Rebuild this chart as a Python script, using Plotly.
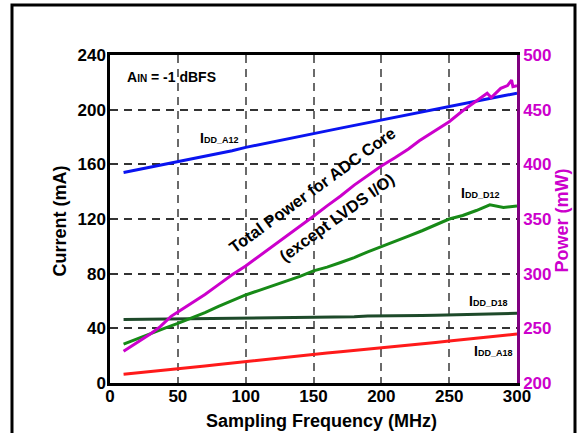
import plotly.graph_objects as go

# Sampling frequency (MHz)
freq = [10, 20, 30, 40, 50, 60, 70, 80, 90, 100, 110, 120, 130, 140, 150,
        160, 170, 180, 190, 200, 210, 220, 230, 240, 250, 260, 270, 280, 290, 300]

# Currents (mA)
idd_a12 = [154, 156, 158, 160, 161.8, 163.6, 165.6, 167.6, 170, 172.4, 174.5, 176.5,
           178.6, 180.6, 182.6, 184.5, 186.5, 188.5, 190.5, 192.4, 194.5, 196.5,
           198.5, 200.6, 202.6, 204.6, 206.5, 208.3, 210.2, 212]
idd_d12 = [28.5, 32.5, 36.3, 40, 43.6, 47.5, 51.5, 56, 60.3, 64.4, 67.8, 71.2,
           74.6, 78, 82, 84.8, 88.2, 91.8, 96, 100, 103.6, 107.5, 111.4, 116,
           120, 122.6, 126.2, 130.4, 128.4, 129.5]
idd_d18 = [46.5, 46.6, 46.6, 46.7, 46.7, 46.8, 46.9, 47, 47.1, 47.2, 47.3, 47.4,
           47.8, 47.6, 48, 48.1, 48.3, 48.5, 49, 49, 49.1, 49.3, 49.4, 49.6,
           49.8, 50.2, 50.3, 50.5, 50.7, 51]
idd_a18 = [6.4, 7.5, 8.5, 9.5, 10.5, 11.5, 12.5, 13.5, 14.6, 15.6, 16.6, 17.7,
           18.8, 19.9, 21, 21.9, 22.8, 23.7, 24.6, 25.5, 26.5, 27.6, 28.6, 29.6,
           30.7, 31.7, 32.7, 33.8, 34.8, 35.8]

# Total power for ADC core (mW)
pwr_freq = [10, 20, 30, 37, 45, 50, 60, 70, 80, 90, 100, 110, 120, 130, 140, 150,
            160, 170, 180, 190, 200, 210, 220, 228, 240, 250, 260, 270, 278, 281,
            288, 293, 296, 297, 300]
power = [229, 237, 245, 251.5, 261, 265, 273, 281, 290, 299, 307, 316, 325, 334,
         343, 352.5, 362, 371, 381, 390, 398.5, 406, 414, 421.5, 431, 439, 449, 458,
         465, 461, 469.5, 472, 477, 471, 472]

FONT = "Liberation Sans, Arial, sans-serif"
MAG = "#CC00CC"

fig = go.Figure()

fig.add_trace(go.Scatter(x=freq, y=idd_a18, mode="lines", line=dict(color="#FF1A1A", width=3)))
fig.add_trace(go.Scatter(x=freq, y=idd_d18, mode="lines", line=dict(color="#1E4A2A", width=3)))
fig.add_trace(go.Scatter(x=freq, y=idd_d12, mode="lines", line=dict(color="#178A17", width=3)))
fig.add_trace(go.Scatter(x=freq, y=idd_a12, mode="lines", line=dict(color="#0A14F0", width=3)))
fig.add_trace(go.Scatter(x=pwr_freq, y=power, mode="lines", yaxis="y2",
                         line=dict(color=MAG, width=3)))

sub = '<span style="font-size:9px">%s</span>'
annots = [
    dict(x=0.037, y=0.933, xref="paper", yref="paper", xanchor="left",
         text="<b>A" + '<span style="font-size:10px">IN</span>' + " = -1 dBFS</b>", font=dict(size=14)),
    dict(x=64.6, y=179.5, xanchor="left", text="<b>I" + sub % "DD_A12" + "</b>", font=dict(size=14)),
    dict(x=257.2, y=138.8, xanchor="left", text="<b>I" + sub % "DD_D12" + "</b>", font=dict(size=14)),
    dict(x=263, y=59.8, xanchor="left", text="<b>I" + sub % "DD_D18" + "</b>", font=dict(size=14)),
    dict(x=266.5, y=23.2, xanchor="left", text="<b>I" + sub % "DD_A18" + "</b>", font=dict(size=14)),
    dict(x=149.0, y=141.0, text="<b>Total Power for ADC Core</b>", textangle=-36, font=dict(size=16.5)),
    dict(x=167.3, y=121.5, text="<b>(except LVDS I/O)</b>", textangle=-36, font=dict(size=16.5)),
    # axis titles
    dict(x=0.52, y=-0.08, xref="paper", yref="paper", yanchor="top",
         text="<b>Sampling Frequency (MHz)</b>", font=dict(size=18)),
    dict(x=-0.123, y=0.495, xref="paper", yref="paper", textangle=-90,
         text="<b>Current (mA)</b>", font=dict(size=18)),
    dict(x=1.11, y=0.495, xref="paper", yref="paper", textangle=-90,
         text="<b>Power (mW)</b>", font=dict(size=18, color=MAG)),
]
for a in annots:
    a.setdefault("xref", "x")
    a.setdefault("yref", "y")
    a.setdefault("xanchor", "center")
    a.setdefault("yanchor", "middle")
    a["showarrow"] = False
    a["font"].setdefault("color", "black")
    a["font"]["family"] = FONT

fig.update_layout(
    width=586, height=433,
    margin=dict(l=110, r=69, t=55, b=50),
    paper_bgcolor="white", plot_bgcolor="white",
    showlegend=False,
    font=dict(family=FONT, color="black"),
    annotations=annots,
    xaxis=dict(range=[0, 300], dtick=50, showgrid=True, gridcolor="#6a6a6a", griddash="8px,6px",
               gridwidth=1.5, showline=True, linecolor="black", linewidth=2.5, mirror=True,
               zeroline=False, ticks="", ticklabelstandoff=-4,
               tickfont=dict(size=17, weight="bold", color="black")),
    yaxis=dict(range=[0, 240], dtick=40, showgrid=True, gridcolor="#333333", griddash="8px,6px",
               gridwidth=1.5, showline=True, linecolor="black", linewidth=2.5,
               zeroline=False, ticks="", ticklabelstandoff=-2,
               tickfont=dict(size=17, weight="bold", color="black")),
    yaxis2=dict(range=[200, 500], dtick=50, overlaying="y", side="right", showgrid=False,
                showline=True, linecolor="#800080", linewidth=2.5, zeroline=False,
                ticks="", ticklabelstandoff=0,
                tickfont=dict(size=17, weight="bold", color=MAG)),
    shapes=[dict(type="rect", xref="paper", yref="paper", x0=-0.2408, x1=1.1425,
                 y0=-0.2, y1=1.1524, line=dict(color="black", width=3), layer="below")],
)

fig.write_html("out.html", config={"displayModeBar": False},
               post_script="document.body.style.margin='0';document.body.style.overflow='hidden';")
